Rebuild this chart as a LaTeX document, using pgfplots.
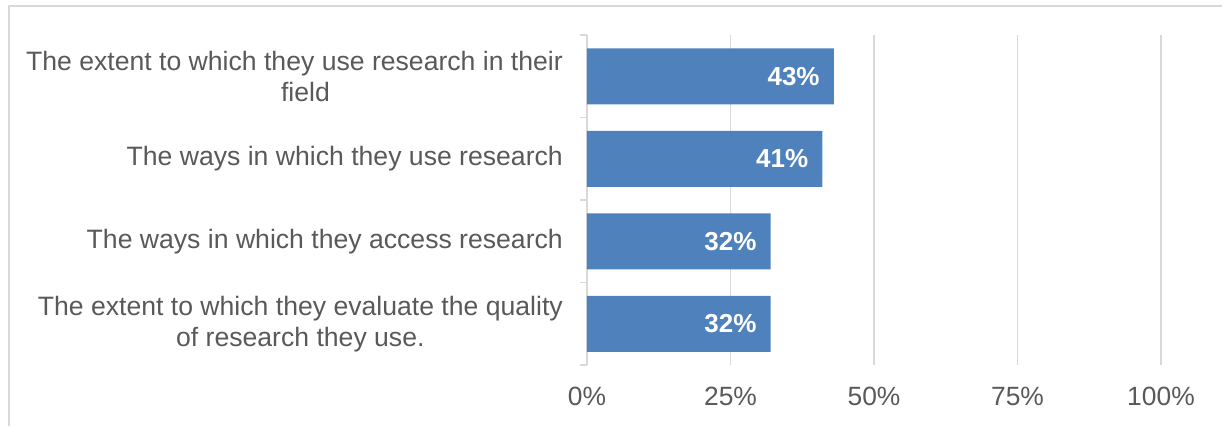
\documentclass[border=0pt]{standalone}
\usepackage{fontspec}
\setmainfont{Liberation Sans}
\usepackage{pgfplots}
\pgfplotsset{compat=1.18}
\definecolor{barblue}{HTML}{4F81BD}
\definecolor{txtgray}{HTML}{595959}
\definecolor{gridgray}{HTML}{D9D9D9}
\begin{document}
\begin{tikzpicture}
\useasboundingbox (-587pt,-61pt) rectangle (635pt,365pt);
\draw[gridgray, line width=1.5pt] (-578pt,-61pt) -- (-578pt,359pt) -- (635pt,359pt);
\begin{axis}[
  at={(0pt,0pt)}, anchor=south west,
  scale only axis, width=574pt, height=330pt,
  xbar, bar width=56pt,
  xmin=0, xmax=100, ymin=-0.5, ymax=3.5,
  y dir=reverse,
  separate axis lines,
  axis x line*=bottom, axis y line*=left,
  x axis line style={draw=none},
  y axis line style={gridgray, line width=1.5pt},
  xtick={0,25,50,75,100},
  xticklabels={0\%,25\%,50\%,75\%,100\%},
  major tick length=0pt,
  xmajorgrids, grid style={gridgray, line width=1.5pt},
  ytick={0,1,2,3},
  yticklabels={{The extent to which they use research in their\\\hspace*{22pt}field},
               {The ways in which they use research},
               {The ways in which they access research},
               {The extent to which they evaluate the quality\\of research they use.}},
  yticklabel style={align=center, inner sep=0pt, xshift=-24pt, font=\fontsize{26.6}{31}\selectfont, text=txtgray},
  xticklabel style={inner sep=0pt, yshift=-22pt, font=\fontsize{26.4}{31}\selectfont, text=txtgray},
  extra y ticks={-0.5,0.5,1.5,2.5,3.5},
  extra y tick labels={},
  extra y tick style={major tick length=7pt, tick align=outside, tick style={gridgray, line width=1.5pt}, xmajorgrids=false, ymajorgrids=false},
  tick style={gridgray},
  point meta=x,
  nodes near coords={\pgfmathprintnumber[assume math mode=true]{\pgfplotspointmeta}\%},
  every node near coord/.append style={anchor=east, xshift=-14pt, text=white, font=\bfseries\fontsize{26}{31}\selectfont, inner sep=0pt},
]
\addplot[fill=barblue, draw=none] coordinates {(43,0) (41,1) (32,2) (32,3)};
\end{axis}
\end{tikzpicture}
\end{document}
